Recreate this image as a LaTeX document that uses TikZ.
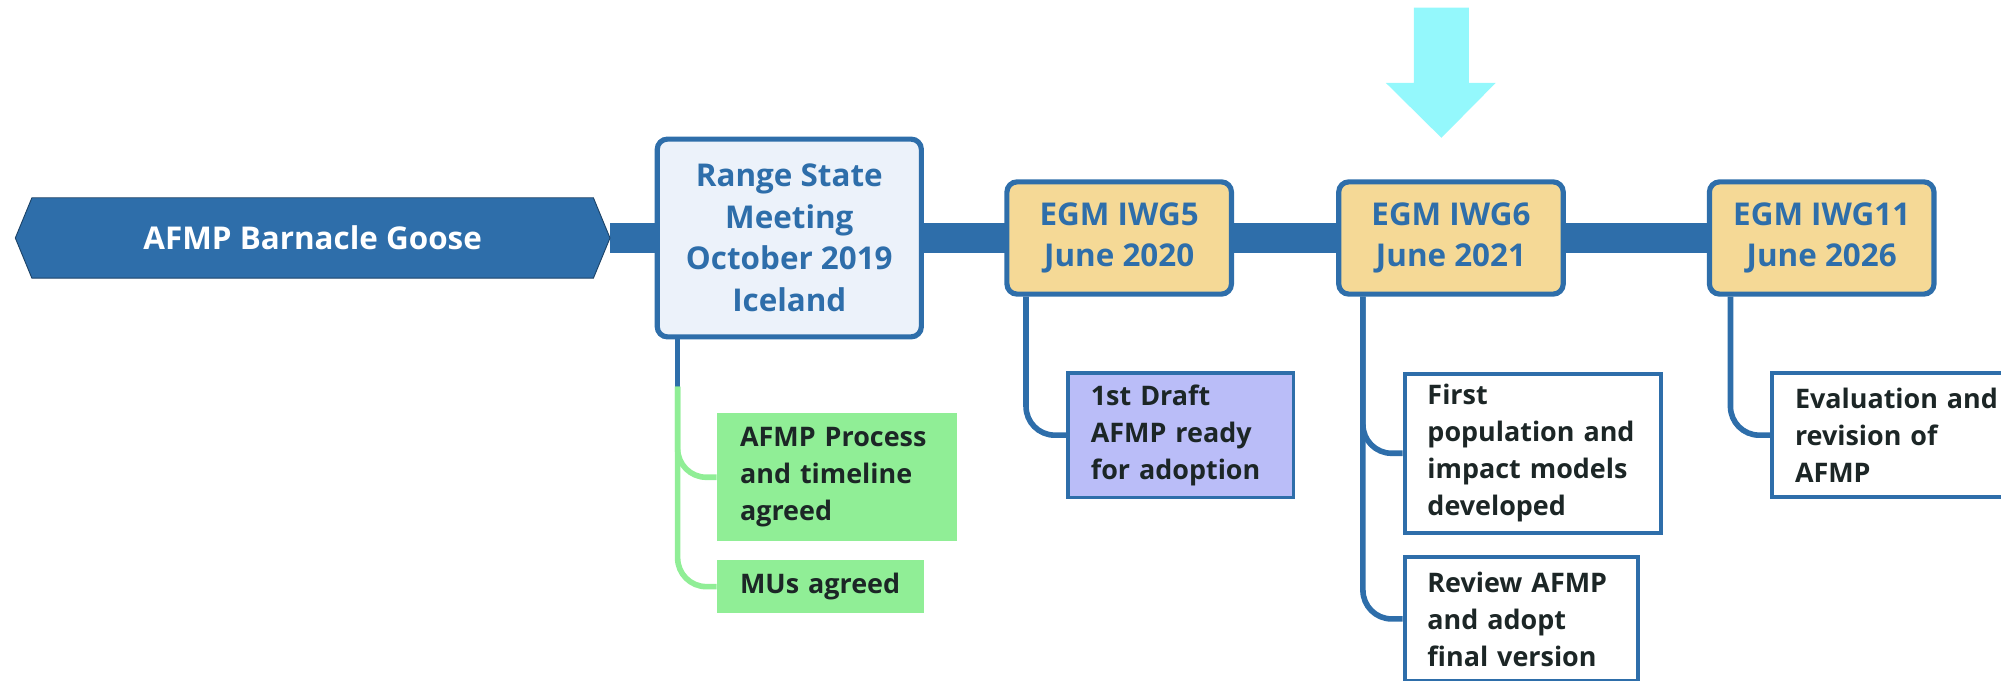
\documentclass[tikz,border=0pt]{standalone}
\usepackage{fontspec}
\setmainfont{Open Sans}
\usetikzlibrary{backgrounds, calc}

\definecolor{trunkblue}{RGB}{46,110,170}
\definecolor{rangefill}{RGB}{236,242,250}
\definecolor{egmfill}{RGB}{245,217,150}
\definecolor{stepgreen}{RGB}{144,238,150}
\definecolor{draftfill}{RGB}{186,189,248}
\definecolor{markcyan}{RGB}{148,248,252}
\definecolor{taskink}{RGB}{28,38,38}

\tikzset{
	meeting/.style={draw=trunkblue, line width=2.3pt, rounded corners=0.16cm, text=trunkblue,
		font=\bfseries\fontsize{14}{18.5}\selectfont, align=center, inner sep=0pt},
	egm/.style={meeting, fill=egmfill, minimum width=3.52cm, minimum height=1.76cm},
	task/.style={anchor=west, align=left, inner xsep=0.36cm, inner ysep=0pt, text=taskink,
		font=\bfseries\fontsize{12}{16.5}\selectfont},
	branch/.style={draw=trunkblue, line width=2.5pt, rounded corners=0.45cm},
}

\begin{document}
\begin{tikzpicture}[x=0.02cm, y=-0.02cm]
	\useasboundingbox (0,0) rectangle (1568,533);
	\clip (0,0) rectangle (1568,533);
	% title banner
	\fill[trunkblue, draw=trunkblue!60!black, line width=0.4pt]
		(12,186.5) -- (25,155) -- (465,155) -- (478,186.5) -- (465,218) -- (25,218) -- cycle;
	\coordinate (hexR) at (478,186.5);
	\node[text=white, font=\bfseries\fontsize{14}{17}\selectfont] (goose) at (245,186.5) {AFMP Barnacle Goose};

	% meetings
	\node[meeting, fill=rangefill, minimum width=4.14cm, minimum height=3.1cm] (range) at (618.5,186.5)
		{Range State\\Meeting\\October 2019\\Iceland};
	\node[egm] (iwg5) at (877,186.5) {EGM IWG5\\June 2020};
	\node[egm] (iwg6) at (1137,186.5) {EGM IWG6\\June 2021};
	\node[egm] (iwg11) at (1427.5,186.5) {EGM IWG11\\June 2026};

	\begin{pgfonlayer}{background}
		\draw[trunkblue, line width=0.47cm] (hexR) -- (iwg11.center);
	\end{pgfonlayer}

	% we are here
	\fill[markcyan] (1108,6) -- (1151,6) -- (1151,65) -- (1172,65) -- (1129.5,108) -- (1086,65) -- (1108,65) -- cycle;

	% outcomes
	\node[task, fill=stepgreen, text width=3.04cm, minimum height=2cm] (process) at (561.6,374)
		{AFMP Process\\and timeline\\agreed};
	\node[task, fill=stepgreen, text width=2.52cm, minimum height=0.83cm] (mus) at (561.6,459.7) {MUs agreed};
	\node[task, fill=draftfill, draw=trunkblue, line width=1.5pt, text width=2.82cm, minimum height=1.95cm] (draft) at (835.5,341)
		{1st Draft\\AFMP ready\\for adoption};
	\node[task, fill=white, draw=trunkblue, line width=1.8pt, text width=3.3cm, minimum height=2.5cm] (models) at (1099,355.2)
		{First\\population and\\impact models\\developed};
	\node[task, fill=white, draw=trunkblue, line width=1.8pt, text width=2.94cm, minimum height=1.95cm] (review) at (1099,485)
		{Review AFMP\\and adopt\\final version};
	\node[task, fill=white, draw=trunkblue, line width=1.8pt, text width=3.28cm, minimum height=1.94cm] (revision) at (1387,341)
		{Evaluation and\\revision of\\AFMP};

	% branches
	\draw[branch] ($(range.south west)+(18,0)$) -- ++(0,37) coordinate (rangeSplit);
	\draw[branch, draw=stepgreen] (rangeSplit) |- (process.west);
	\draw[branch, draw=stepgreen] (rangeSplit) |- (mus.west);
	\draw[branch] ($(iwg5.south west)+(17,0)$) |- (draft.west);
	\draw[branch] ($(iwg6.south west)+(21,0)$) |- (models.west);
	\draw[branch] ($(iwg6.south west)+(21,0)$) |- (review.west);
	\draw[branch] ($(iwg11.south west)+(18.5,0)$) |- (revision.west);
\end{tikzpicture}
\end{document}
